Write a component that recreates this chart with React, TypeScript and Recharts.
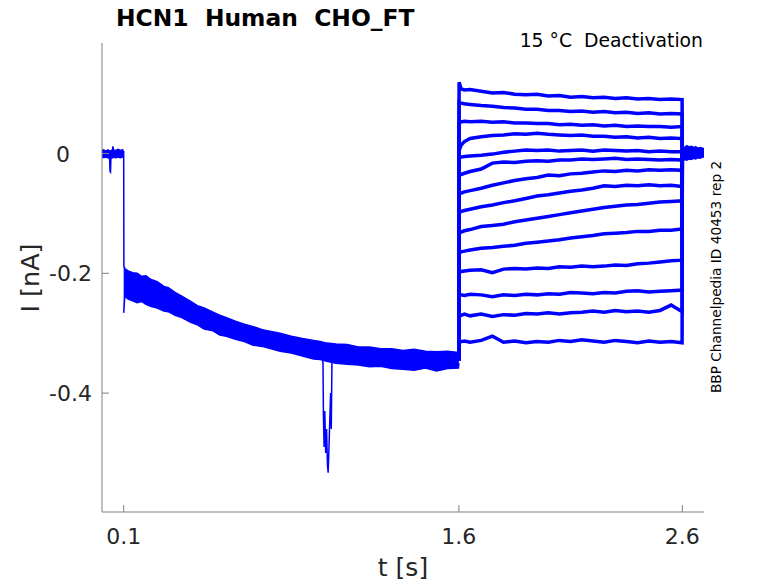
import React from 'react';
import { ComposedChart, Area, Line, XAxis, YAxis } from 'recharts';

// holding period before the step (all sweeps overlap)
const holdT = [0.003, 0.01, 0.02, 0.03, 0.037, 0.039, 0.041, 0.043, 0.05, 0.052, 0.054, 0.065, 0.075, 0.085, 0.095, 0.0995];
const holdHi = [0.005, 0.006, 0.004, 0.006, 0.004, -0.004, -0.004, 0.005, 0.006, 0.012, 0.006, 0.005, 0.007, 0.005, 0.006, 0.005];
const holdLo = [-0.005, -0.007, -0.006, -0.007, -0.008, -0.03, -0.031, -0.008, -0.006, -0.007, -0.006, -0.007, -0.006, -0.007, -0.006, -0.006];

// activation step 0.1 s - 1.6 s (all sweeps overlap)
const stepT = [0.1, 0.101, 0.105, 0.12, 0.14, 0.16, 0.18, 0.2, 0.22, 0.25, 0.28, 0.3, 0.33, 0.36, 0.4, 0.43, 0.46, 0.5, 0.53, 0.56, 0.6, 0.64, 0.68, 0.72, 0.76, 0.8, 0.85, 0.9, 0.95, 0.98, 1.0, 1.05, 1.1, 1.15, 1.2, 1.25, 1.3, 1.35, 1.4, 1.45, 1.5, 1.55, 1.598, 1.6];
const stepHi = [0.004, -0.188, -0.192, -0.196, -0.199, -0.2, -0.205, -0.204, -0.21, -0.214, -0.222, -0.224, -0.232, -0.238, -0.247, -0.254, -0.258, -0.265, -0.27, -0.274, -0.28, -0.285, -0.289, -0.294, -0.297, -0.3, -0.305, -0.309, -0.312, -0.314, -0.316, -0.318, -0.319, -0.323, -0.323, -0.326, -0.326, -0.329, -0.327, -0.33, -0.331, -0.33, -0.332, -0.332];
const stepLo = [-0.266, -0.262, -0.238, -0.243, -0.246, -0.249, -0.247, -0.252, -0.255, -0.258, -0.263, -0.264, -0.27, -0.274, -0.282, -0.286, -0.293, -0.296, -0.303, -0.305, -0.31, -0.314, -0.32, -0.322, -0.326, -0.33, -0.333, -0.338, -0.343, -0.344, -0.346, -0.35, -0.352, -0.353, -0.356, -0.355, -0.359, -0.36, -0.362, -0.358, -0.363, -0.359, -0.358, -0.35];

// artefact spike around t = 1.0 s
const spikeT = [0.988, 0.992, 0.994, 0.997, 1.0, 1.004, 1.008, 1.012, 1.015, 1.018, 1.022, 1.026, 1.029, 1.032, 1.036];
const spikeI = [-0.34, -0.35, -0.44, -0.49, -0.43, -0.5, -0.46, -0.52, -0.533, -0.5, -0.45, -0.4, -0.46, -0.35, -0.34];

// deactivation tails 1.6 s - 2.6 s, one array per sweep
const tailT = [1.6, 1.601, 1.61, 1.625, 1.65, 1.7, 1.75, 1.8, 1.85, 1.9, 1.95, 2.0, 2.05, 2.1, 2.15, 2.2, 2.25, 2.3, 2.35, 2.4, 2.45, 2.5, 2.55, 2.599, 2.6];
const sweep01 = [-0.345, 0.119, 0.108, 0.106, 0.107, 0.104, 0.101, 0.102, 0.099, 0.098, 0.099, 0.096, 0.097, 0.094, 0.095, 0.093, 0.094, 0.092, 0.093, 0.091, 0.092, 0.09, 0.091, 0.09, 0];
const sweep02 = [-0.345, 0.086, 0.084, 0.083, 0.082, 0.08, 0.079, 0.077, 0.076, 0.074, 0.074, 0.072, 0.072, 0.07, 0.071, 0.069, 0.07, 0.068, 0.069, 0.067, 0.068, 0.066, 0.067, 0.066, 0];
const sweep03 = [-0.345, 0.05, 0.053, 0.054, 0.053, 0.054, 0.052, 0.053, 0.051, 0.051, 0.05, 0.05, 0.048, 0.049, 0.047, 0.048, 0.046, 0.047, 0.045, 0.046, 0.045, 0.045, 0.044, 0.045, 0];
const sweep04 = [-0.345, 0.005, 0.014, 0.02, 0.025, 0.028, 0.03, 0.031, 0.033, 0.032, 0.034, 0.032, 0.031, 0.03, 0.031, 0.029, 0.029, 0.027, 0.028, 0.026, 0.027, 0.025, 0.026, 0.025, 0];
const sweep05 = [-0.345, -0.008, -0.006, -0.005, -0.004, -0.003, -0.001, 0.002, 0.004, 0.006, 0.005, 0.006, 0.004, 0.005, 0.006, 0.004, 0.006, 0.005, 0.004, 0.005, 0.003, 0.004, 0.003, 0.003, 0];
const sweep06 = [-0.345, -0.036, -0.035, -0.033, -0.03, -0.026, -0.016, -0.014, -0.015, -0.013, -0.012, -0.013, -0.011, -0.011, -0.009, -0.01, -0.009, -0.008, -0.01, -0.009, -0.01, -0.011, -0.01, -0.011, 0];
const sweep07 = [-0.345, -0.068, -0.066, -0.064, -0.062, -0.058, -0.053, -0.049, -0.045, -0.042, -0.04, -0.036, -0.037, -0.034, -0.033, -0.031, -0.029, -0.03, -0.028, -0.029, -0.027, -0.028, -0.027, -0.028, 0];
const sweep08 = [-0.345, -0.099, -0.097, -0.095, -0.093, -0.089, -0.086, -0.082, -0.079, -0.075, -0.071, -0.069, -0.066, -0.063, -0.061, -0.058, -0.054, -0.055, -0.053, -0.054, -0.052, -0.054, -0.053, -0.055, 0];
const sweep09 = [-0.345, -0.134, -0.131, -0.129, -0.127, -0.122, -0.12, -0.118, -0.114, -0.111, -0.108, -0.105, -0.102, -0.099, -0.096, -0.093, -0.09, -0.088, -0.086, -0.085, -0.083, -0.081, -0.08, -0.079, 0];
const sweep10 = [-0.345, -0.167, -0.164, -0.163, -0.161, -0.158, -0.157, -0.155, -0.153, -0.15, -0.148, -0.146, -0.144, -0.141, -0.139, -0.137, -0.134, -0.133, -0.132, -0.13, -0.13, -0.128, -0.128, -0.126, 0];
const sweep11 = [-0.345, -0.199, -0.197, -0.196, -0.195, -0.194, -0.199, -0.193, -0.192, -0.193, -0.191, -0.192, -0.189, -0.19, -0.188, -0.189, -0.188, -0.186, -0.187, -0.184, -0.183, -0.181, -0.179, -0.178, 0];
const sweep12 = [-0.345, -0.238, -0.236, -0.237, -0.235, -0.236, -0.239, -0.236, -0.237, -0.235, -0.236, -0.234, -0.235, -0.232, -0.233, -0.234, -0.232, -0.233, -0.23, -0.229, -0.231, -0.23, -0.229, -0.228, 0];
const sweep13 = [-0.345, -0.272, -0.27, -0.268, -0.271, -0.268, -0.272, -0.269, -0.27, -0.267, -0.268, -0.266, -0.268, -0.266, -0.265, -0.263, -0.265, -0.262, -0.264, -0.263, -0.265, -0.262, -0.253, -0.264, 0];
const sweep14 = [-0.345, -0.316, -0.314, -0.313, -0.315, -0.312, -0.305, -0.315, -0.313, -0.316, -0.314, -0.315, -0.312, -0.314, -0.311, -0.313, -0.315, -0.312, -0.314, -0.316, -0.313, -0.315, -0.314, -0.316, 0];
const sweeps = [sweep01, sweep02, sweep03, sweep04, sweep05, sweep06, sweep07, sweep08, sweep09, sweep10, sweep11, sweep12, sweep13, sweep14];

// back at holding potential after 2.6 s
const endT = [2.6, 2.602, 2.61, 2.62, 2.63, 2.64, 2.65, 2.66, 2.67, 2.68, 2.69, 2.697];
const endHi = [0.002, 0.012, 0.01, 0.013, 0.011, 0.012, 0.01, 0.011, 0.009, 0.01, 0.009, 0.008];
const endLo = [-0.002, -0.012, -0.01, -0.011, -0.009, -0.01, -0.008, -0.009, -0.007, -0.008, -0.006, -0.006];

const xTicks = [0.1, 1.6, 2.6];
const yTicks = [-0.4, -0.2, 0];

const BLUE = '#0000ff';
const AXIS = '#808080';
const TEXT = '#262626';
const FONT = 'DejaVu Sans';

const band = (ts: number[], lo: number[], hi: number[]) =>
  ts.map((t, i) => ({ t, range: [lo[i], hi[i]] }));

const holdData = band(holdT, holdLo, holdHi);
const stepData = band(stepT, stepLo, stepHi);
const endData = band(endT, endLo, endHi);
const spikeData = spikeT.map((t, i) => ({ t, i: spikeI[i] }));
const sweepData = sweeps.map((vals) => vals.map((v, k) => ({ t: tailT[k], i: v })));

const XTick = (props: any) => (
  <text x={props.x} y={544} textAnchor="middle" fontSize={22} fill={TEXT} fontFamily={FONT}>
    {props.payload.value}
  </text>
);

const YTick = (props: any) => {
  const v = props.payload.value;
  return (
    <text x={v === 0 ? 70 : 92} y={props.y + 8} textAnchor="end" fontSize={22} fill={TEXT} fontFamily={FONT}>
      {v === 0 ? '0' : v.toFixed(1)}
    </text>
  );
};

export default function App() {
  return (
    <div style={{ position: 'absolute', left: 0, top: 0, width: 778, height: 583, background: '#fff' }}>
      <ComposedChart width={778} height={583} margin={{ top: 43, right: 74, bottom: 31, left: 42 }}>
        <XAxis
          type="number"
          dataKey="t"
          domain={[0.003, 2.697]}
          ticks={xTicks}
          allowDataOverflow
          height={40}
          tickSize={-7}
          axisLine={{ stroke: AXIS }}
          tickLine={{ stroke: AXIS }}
          tick={<XTick />}
        />
        <YAxis
          type="number"
          domain={[-0.5985, 0.1845]}
          ticks={yTicks}
          allowDataOverflow
          width={60}
          tickSize={-7}
          axisLine={{ stroke: AXIS }}
          tickLine={{ stroke: AXIS }}
          tick={<YTick />}
        />
        <Area data={holdData} dataKey="range" type="linear" stroke={BLUE} strokeWidth={1.5} fill={BLUE} fillOpacity={1} dot={false} activeDot={false} isAnimationActive={false} />
        <Area data={stepData} dataKey="range" type="linear" stroke={BLUE} strokeWidth={1.5} fill={BLUE} fillOpacity={1} dot={false} activeDot={false} isAnimationActive={false} />
        <Line data={spikeData} dataKey="i" type="linear" stroke={BLUE} strokeWidth={1.5} dot={false} activeDot={false} isAnimationActive={false} />
        {sweepData.map((d, k) => (
          <Line key={k} data={d} dataKey="i" type="linear" stroke={BLUE} strokeWidth={3.5} dot={false} activeDot={false} isAnimationActive={false} />
        ))}
        <Area data={endData} dataKey="range" type="linear" stroke={BLUE} strokeWidth={1.5} fill={BLUE} fillOpacity={1} dot={false} activeDot={false} isAnimationActive={false} />
      </ComposedChart>
      <svg width={778} height={583} style={{ position: 'absolute', left: 0, top: 0, pointerEvents: 'none' }}>
        <text x={116} y={26} fontSize={23.4} fontWeight="bold" fill="#000" fontFamily={FONT} xmlSpace="preserve">
          HCN1  Human  CHO_FT
        </text>
        <text x={703} y={47} textAnchor="end" fontSize={18.8} fill="#000" fontFamily={FONT} xmlSpace="preserve">
          15 °C  Deactivation
        </text>
        <text x={403} y={576} textAnchor="middle" fontSize={25} fill={TEXT} fontFamily={FONT}>
          t [s]
        </text>
        <text transform="translate(39,278) rotate(-90)" textAnchor="middle" fontSize={25.5} fill={TEXT} fontFamily={FONT}>
          I [nA]
        </text>
        <text transform="translate(721,277) rotate(-90)" textAnchor="middle" fontSize={13.7} fill="#000" fontFamily={FONT}>
          BBP Channelpedia ID 40453 rep 2
        </text>
      </svg>
    </div>
  );
}
